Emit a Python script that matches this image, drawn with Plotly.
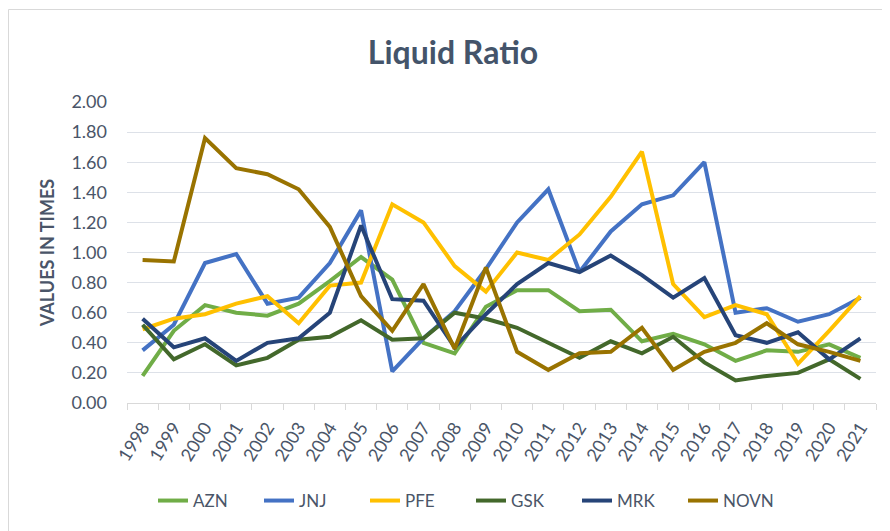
import plotly.graph_objects as go

years = [str(y) for y in range(1998, 2022)]

azn = [0.18, 0.48, 0.65, 0.60, 0.58, 0.66, 0.81, 0.97, 0.82, 0.40, 0.33, 0.64,
       0.75, 0.75, 0.61, 0.62, 0.41, 0.46, 0.39, 0.28, 0.35, 0.34, 0.39, 0.30]
jnj = [0.35, 0.52, 0.93, 0.99, 0.66, 0.70, 0.93, 1.28, 0.21, 0.43, 0.61, 0.89,
       1.20, 1.42, 0.87, 1.14, 1.32, 1.38, 1.60, 0.60, 0.63, 0.54, 0.59, 0.70]
pfe = [0.49, 0.56, 0.59, 0.66, 0.71, 0.53, 0.78, 0.80, 1.32, 1.20, 0.91, 0.74,
       1.00, 0.95, 1.12, 1.37, 1.67, 0.79, 0.57, 0.65, 0.59, 0.26, 0.48, 0.71]
gsk = [0.52, 0.29, 0.39, 0.25, 0.30, 0.42, 0.44, 0.55, 0.42, 0.43, 0.60, 0.56,
       0.50, 0.40, 0.30, 0.41, 0.33, 0.44, 0.27, 0.15, 0.18, 0.20, 0.29, 0.16]
mrk = [0.56, 0.37, 0.43, 0.28, 0.40, 0.43, 0.60, 1.18, 0.69, 0.68, 0.37, 0.59,
       0.79, 0.93, 0.87, 0.98, 0.85, 0.70, 0.83, 0.45, 0.40, 0.47, 0.29, 0.43]
novn = [0.95, 0.94, 1.76, 1.56, 1.52, 1.42, 1.17, 0.71, 0.48, 0.79, 0.36, 0.90,
        0.34, 0.22, 0.33, 0.34, 0.50, 0.22, 0.34, 0.40, 0.53, 0.39, 0.34, 0.28]

series_names = ["AZN", "JNJ", "PFE", "GSK", "MRK", "NOVN"]
series_values = [azn, jnj, pfe, gsk, mrk, novn]
colors = ["#70AD47", "#4472C4", "#FFC000", "#43682B", "#264478", "#997300"]

FONT = "Lato, 'Open Sans', sans-serif"
TEXT = "#4a5568"

fig = go.Figure()
for name, vals, col in zip(series_names, series_values, colors):
    fig.add_trace(go.Scatter(x=years, y=vals, name=name, mode="lines",
                             line=dict(color=col, width=4)))

# page has an 8px body margin; figure coordinates = page - 8
W, H = 882, 523
L, R, T, B = 119, 14, 94, 128
pw, ph = W - L - R, H - T - B

def px(x):
    return (x - L) / pw

def py(y):
    return (H - B - y) / ph

fig.update_layout(
    width=W, height=H,
    margin=dict(l=L, r=R, t=T, b=B),
    paper_bgcolor="white", plot_bgcolor="white",
    font=dict(family=FONT, color=TEXT, size=18),
    title=dict(text="<b>Liquid Ratio</b>", x=445 / W, xanchor="center",
               y=1 - 45 / H, yanchor="middle",
               font=dict(size=32, color="#44546A", family=FONT)),
    xaxis=dict(type="category", range=[-0.5, len(years) - 0.5],
               tickson="boundaries", ticks="outside",
               ticklen=6, tickcolor="#d9d9d9", showline=True,
               linecolor="#d9d9d9", linewidth=1, showgrid=False,
               tickangle=-58, ticklabelstandoff=6,
               tickfont=dict(size=18, color=TEXT)),
    yaxis=dict(range=[0, 2], dtick=0.2, tickformat=".2f", showline=False,
               zeroline=False, gridcolor="#dde1e8", gridwidth=1,
               ticks="", ticklabelstandoff=19,
               tickfont=dict(size=18, color=TEXT),
               title=dict(text="<b>VALUES IN TIMES</b>", standoff=12,
                          font=dict(size=18, color=TEXT))),
    legend=dict(orientation="h", x=px(145), xanchor="left", y=py(493),
                yanchor="middle", entrywidth=61, entrywidthmode="pixels",
                font=dict(size=17, color=TEXT), bgcolor="rgba(0,0,0,0)"),
    shapes=[dict(type="rect", xref="paper", yref="paper",
                 x0=px(0.5), x1=px(900), y0=py(540), y1=py(1.5),
                 line=dict(color="#d9d9d9", width=1), fillcolor="rgba(0,0,0,0)",
                 layer="below")],
)

fig.write_html("out.html")
